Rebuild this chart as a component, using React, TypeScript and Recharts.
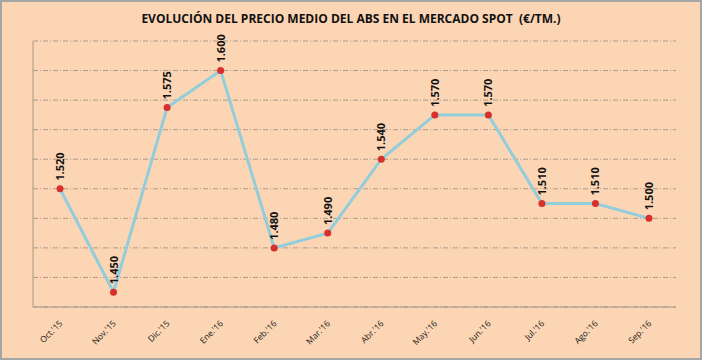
import React from 'react';
import { LineChart, Line, XAxis, YAxis, CartesianGrid, LabelList } from 'recharts';

const months = ["Oct.'15", "Nov.'15", "Dic.'15", "Ene.'16", "Feb.'16", "Mar.'16", "Abr.'16", "May.'16", "Jun.'16", "Jul.'16", "Ago.'16", "Sep.'16"];
const prices = [1520, 1450, 1575, 1600, 1480, 1490, 1540, 1570, 1570, 1510, 1510, 1500];
const yTicks = [1440, 1460, 1480, 1500, 1520, 1540, 1560, 1580, 1600, 1620];

const data = months.map((m, i) => ({ month: m, price: prices[i] }));

const fmt = (v: number) => {
  const s = String(v);
  return s.length > 3 ? s.slice(0, s.length - 3) + '.' + s.slice(-3) : s;
};

const MonthTick = (props: any) => {
  const { x, y, payload } = props;
  return (
    <g transform={`translate(${x + 3},${y + 9}) rotate(-45)`}>
      <text x={0} y={0} textAnchor="end" fontSize={8.5} fill="#1a1a1a" fontFamily="Open Sans, sans-serif">
        {payload.value}
      </text>
    </g>
  );
};

const ValueLabel = (props: any) => {
  const { x, y, value } = props;
  return (
    <g transform={`translate(${x + 4},${y - 8}) rotate(-90)`}>
      <text x={0} y={0} textAnchor="start" fontSize={11} fontWeight="bold" fill="#111" fontFamily="Open Sans, sans-serif">
        {fmt(value)}
      </text>
    </g>
  );
};

export default function App() {
  return (
    <div style={{ position: 'absolute', left: 0, top: 0, width: 702, height: 360, boxSizing: 'border-box', border: '2px solid #a6a6a6', background: '#fcd5b4', fontFamily: 'Open Sans, sans-serif' }}>
      <div style={{ position: 'absolute', top: 8, left: 0, width: 698, textAlign: 'center', fontSize: 12, fontWeight: 'bold', color: '#111' }}>
        EVOLUCIÓN DEL PRECIO MEDIO DEL ABS EN EL MERCADO SPOT&nbsp;&nbsp;(€/TM.)
      </div>
      <LineChart width={698} height={356} data={data} margin={{ top: 39, right: 24, left: 30, bottom: 0 }}>
        <CartesianGrid vertical={false} stroke="#ab9b8a" strokeDasharray="5 2 1 2" />
        <XAxis dataKey="month" tick={(p: any) => <MonthTick {...p} />} tickLine={false} axisLine={{ stroke: '#a89886' }} height={51} interval={0} padding={{ left: 27, right: 27 }} />
        <YAxis domain={[1440, 1620]} ticks={yTicks} tick={() => <g />} tickLine={false} axisLine={{ stroke: '#a89886' }} width={1} />
        <Line type="linear" dataKey="price" stroke="#92cddc" strokeWidth={3} isAnimationActive={false}
          dot={{ r: 3.5, fill: '#d7302a', stroke: '#d7302a', strokeWidth: 0 }}>
          <LabelList dataKey="price" content={(p: any) => <ValueLabel {...p} />} />
        </Line>
      </LineChart>
    </div>
  );
}
